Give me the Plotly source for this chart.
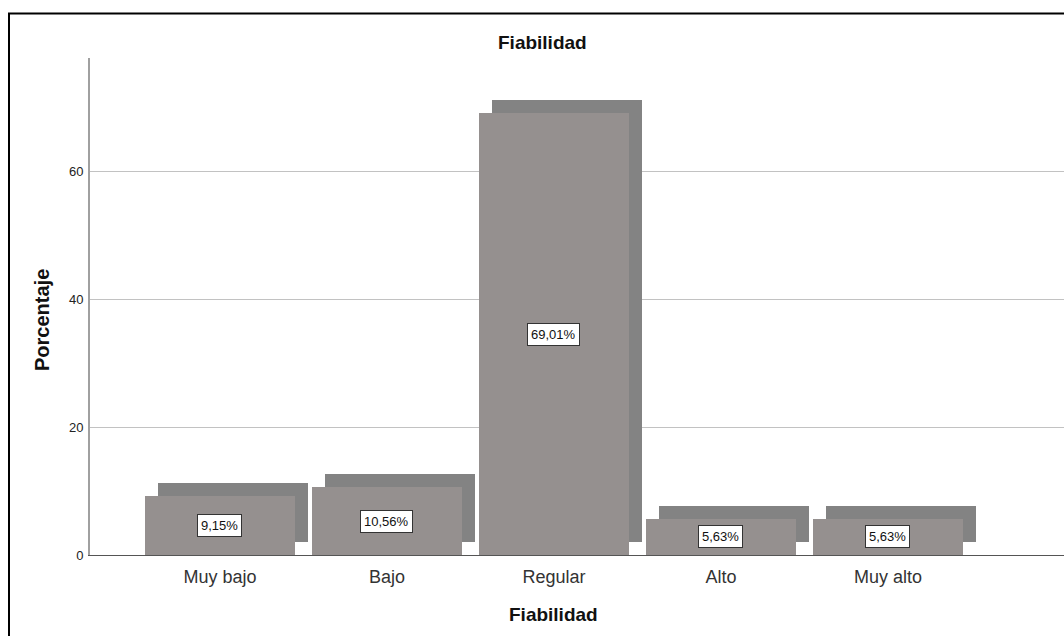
import plotly.graph_objects as go

# Data
categories = ["Muy bajo", "Bajo", "Regular", "Alto", "Muy alto"]
percentages = [9.15, 10.56, 69.01, 5.63, 5.63]
value_labels = ["9,15%", "10,56%", "69,01%", "5,63%", "5,63%"]
y_ticks = [0, 20, 40, 60]

# Figure geometry (pixels)
W, H = 1064, 636
L, R, T, B = 90, 0, 58, 81
plot_w = W - L - R
plot_h = H - T - B

y_max = 77.66
x_lo, x_hi = -0.778, 5.054
px_per_cat = plot_w / (x_hi - x_lo)
px_per_unit = plot_h / y_max

# 3D-style shadow offset: 13 px right and 13 px up
dx = 13 / px_per_cat
dy = 13 / px_per_unit

bar_w = 0.898
xs = list(range(len(categories)))

BAR = "#95908f"
SHADOW = "#838383"

fig = go.Figure()
fig.add_trace(go.Bar(
    x=[x + dx for x in xs],
    y=percentages,
    base=[dy] * len(percentages),
    width=bar_w,
    marker=dict(color=SHADOW, line=dict(width=0)),
    hoverinfo="skip",
    showlegend=False,
))
fig.add_trace(go.Bar(
    x=xs,
    y=percentages,
    width=bar_w,
    marker=dict(color=BAR, line=dict(width=0)),
    showlegend=False,
))

font = "Liberation Sans, Arial, sans-serif"

# Value labels in boxes at mid-height of each bar
for x, v, lab in zip(xs, percentages, value_labels):
    fig.add_annotation(
        x=x, y=v / 2, text=lab, showarrow=False,
        font=dict(family=font, size=13, color="#111"),
        bgcolor="white", bordercolor="#333", borderwidth=1, borderpad=3,
        xanchor="center", yanchor="middle",
    )

def px_x(p):
    return (p - L) / plot_w

def px_y(p):
    return (H - B - p) / plot_h

# Title and axis titles
fig.add_annotation(
    x=px_x(542), y=px_y(43), xref="paper", yref="paper",
    text="<b>Fiabilidad</b>", showarrow=False,
    font=dict(family=font, size=19, color="#111"),
    xanchor="center", yanchor="middle",
)
fig.add_annotation(
    x=px_x(553), y=px_y(614), xref="paper", yref="paper",
    text="<b>Fiabilidad</b>", showarrow=False,
    font=dict(family=font, size=19, color="#111"),
    xanchor="center", yanchor="middle",
)
fig.add_annotation(
    x=px_x(42), y=px_y(320), xref="paper", yref="paper",
    text="<b>Porcentaje</b>", showarrow=False, textangle=-90,
    font=dict(family=font, size=20, color="#111"),
    xanchor="center", yanchor="middle",
)

# Outer frame (left and top edges visible)
fig.add_shape(
    type="path", xref="paper", yref="paper",
    path=f"M {px_x(9)} {px_y(700)} L {px_x(9)} {px_y(13.5)} L {px_x(1100)} {px_y(13.5)}",
    line=dict(color="black", width=2),
)

fig.update_layout(
    width=W, height=H,
    margin=dict(l=L, r=R, t=T, b=B, pad=0),
    paper_bgcolor="white", plot_bgcolor="white",
    barmode="overlay",
    bargap=0,
    font=dict(family=font),
    xaxis=dict(
        range=[x_lo, x_hi],
        tickmode="array", tickvals=xs, ticktext=categories,
        tickfont=dict(family=font, size=18, color="#333"),
        showgrid=False, zeroline=False,
        showline=True, linecolor="#555", linewidth=1,
        ticks="", ticklen=0, ticklabelstandoff=5,
    ),
    yaxis=dict(
        range=[0, y_max],
        tickmode="array", tickvals=y_ticks,
        tickfont=dict(family=font, size=13, color="#222"),
        showgrid=True, gridcolor="#c2c2c2", gridwidth=1,
        zeroline=False,
        showline=True, linecolor="#a0a0a0", linewidth=2,
        ticks="outside", ticklen=2, tickcolor="rgba(0,0,0,0)",
    ),
)

fig.write_html("out.html")
